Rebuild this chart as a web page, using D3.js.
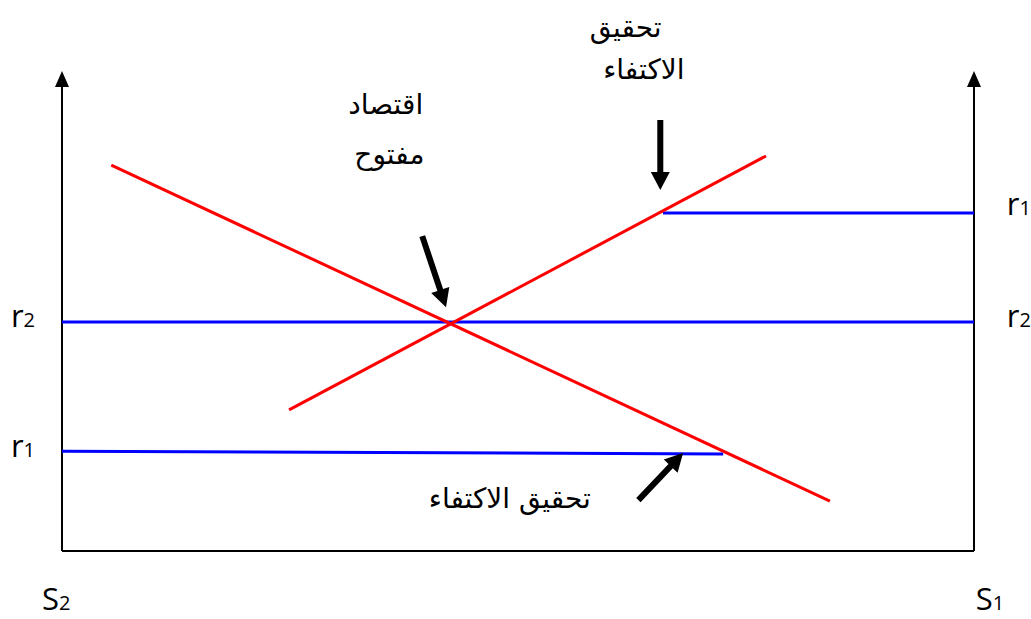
<!DOCTYPE html>
<html>
<head>
<meta charset="utf-8">
<script src="https://d3js.org/d3.v7.min.js"></script>
<style>
    body { margin: 0; background: #fff; }
    .arabic { font-family: "DejaVu Sans", sans-serif; font-size: 28px; fill: #000; }
    .lbl { font-family: "Open Sans", sans-serif; font-size: 31px; fill: #000; }
</style>
</head>
<body>
<script>
// diagram units: x 0..100 left axis to right axis, y 0..100 bottom to top of axis
var redLines = [
    { name: 'down', x1: 5.4, y1: 80.4, x2: 84.2, y2: 10.4 },
    { name: 'up', x1: 24.9, y1: 29.4, x2: 77.2, y2: 82.3 }
];
var blueLines = [
    { name: 'r2', x1: 0, y1: 47.7, x2: 100, y2: 47.7 },
    { name: 'r1right', x1: 65.9, y1: 70.4, x2: 100, y2: 70.4 },
    { name: 'r1left', x1: 0, y1: 20.8, x2: 72.5, y2: 20.2 }
];
var arrows = [
    { x1: 65.6, y1: 89.8, x2: 65.6, y2: 75.2 },
    { x1: 39.5, y1: 65.6, x2: 42.1, y2: 50.8 },
    { x1: 63.2, y1: 10.6, x2: 68.1, y2: 20.4 }
];
var arabicLabels = [
    { text: 'تحقيق', x: 61.8, y: 107.0 },
    { text: 'الاكتفاء', x: 63.8, y: 98.3 },
    { text: 'اقتصاد', x: 35.5, y: 91.0 },
    { text: 'مفتوح', x: 35.9, y: 80.6 },
    { text: 'تحقيق الاكتفاء', x: 49.1, y: 9.0 }
];
var rateLabels = [
    { base: 'r', sub: '2', x: -5.6, y: 46.7 },
    { base: 'r', sub: '1', x: -5.6, y: 19.6 },
    { base: 'r', sub: '1', x: 103.6, y: 70.0 },
    { base: 'r', sub: '2', x: 103.6, y: 46.7 },
    { base: 'S', sub: '2', x: -2.2, y: -12.3 },
    { base: 'S', sub: '1', x: 100.2, y: -12.3 }
];

var svg = d3.select('body').append('svg')
    .attr('width', 1031)
    .attr('height', 619);

var x = d3.scaleLinear().domain([0, 100]).range([62, 974]);
var y = d3.scaleLinear().domain([0, 100]).range([551, 71]);

// axes: two vertical arrows and the base line
var axisG = svg.append('g');
axisG.append('line')
    .attr('x1', x(0)).attr('y1', y(0))
    .attr('x2', x(100)).attr('y2', y(0))
    .attr('stroke', '#000').attr('stroke-width', 2);
[0, 100].forEach(function (v) {
    axisG.append('line')
        .attr('x1', x(v)).attr('y1', y(0))
        .attr('x2', x(v)).attr('y2', y(100) + 12)
        .attr('stroke', '#000').attr('stroke-width', 2);
    axisG.append('path')
        .attr('d', 'M' + x(v) + ',' + y(100) + 'L' + (x(v) - 7) + ',' + (y(100) + 16) + 'L' + (x(v) + 7) + ',' + (y(100) + 16) + 'Z')
        .attr('fill', '#000');
});

svg.append('g').selectAll('line')
    .data(blueLines)
    .enter().append('line')
    .attr('x1', function (d) { return x(d.x1); })
    .attr('y1', function (d) { return y(d.y1); })
    .attr('x2', function (d) { return x(d.x2); })
    .attr('y2', function (d) { return y(d.y2); })
    .attr('stroke', '#0000FF')
    .attr('stroke-width', 3);

svg.append('g').selectAll('line')
    .data(redLines)
    .enter().append('line')
    .attr('x1', function (d) { return x(d.x1); })
    .attr('y1', function (d) { return y(d.y1); })
    .attr('x2', function (d) { return x(d.x2); })
    .attr('y2', function (d) { return y(d.y2); })
    .attr('stroke', '#FF0000')
    .attr('stroke-width', 3);

// thick black arrows, shaft + head as one polygon
function arrowPath(d) {
    var ax = x(d.x1), ay = y(d.y1), bx = x(d.x2), by = y(d.y2);
    var len = Math.sqrt((bx - ax) * (bx - ax) + (by - ay) * (by - ay));
    var ux = (bx - ax) / len, uy = (by - ay) / len;
    var px = -uy, py = ux;
    var sw = 3, hw = 9.5, hl = 18;
    var cx = bx - ux * hl, cy = by - uy * hl;
    var pts = [
        [ax + px * sw, ay + py * sw],
        [cx + px * sw, cy + py * sw],
        [cx + px * hw, cy + py * hw],
        [bx, by],
        [cx - px * hw, cy - py * hw],
        [cx - px * sw, cy - py * sw],
        [ax - px * sw, ay - py * sw]
    ];
    return 'M' + pts.map(function (p) { return p[0].toFixed(1) + ',' + p[1].toFixed(1); }).join('L') + 'Z';
}

svg.append('g').selectAll('path')
    .data(arrows)
    .enter().append('path')
    .attr('d', arrowPath)
    .attr('fill', '#000');

svg.append('g').selectAll('text')
    .data(arabicLabels)
    .enter().append('text')
    .classed('arabic', true)
    .attr('x', function (d) { return x(d.x); })
    .attr('y', function (d) { return y(d.y); })
    .attr('direction', 'rtl')
    .style('text-anchor', 'middle')
    .text(function (d) { return d.text; });

var rl = svg.append('g').selectAll('text')
    .data(rateLabels)
    .enter().append('text')
    .classed('lbl', true)
    .attr('x', function (d) { return x(d.x); })
    .attr('y', function (d) { return y(d.y); })
    .style('text-anchor', 'start');
rl.append('tspan').text(function (d) { return d.base; });
rl.append('tspan')
    .style('font-size', '20px')
    .text(function (d) { return d.sub; });
</script>
</body>
</html>
